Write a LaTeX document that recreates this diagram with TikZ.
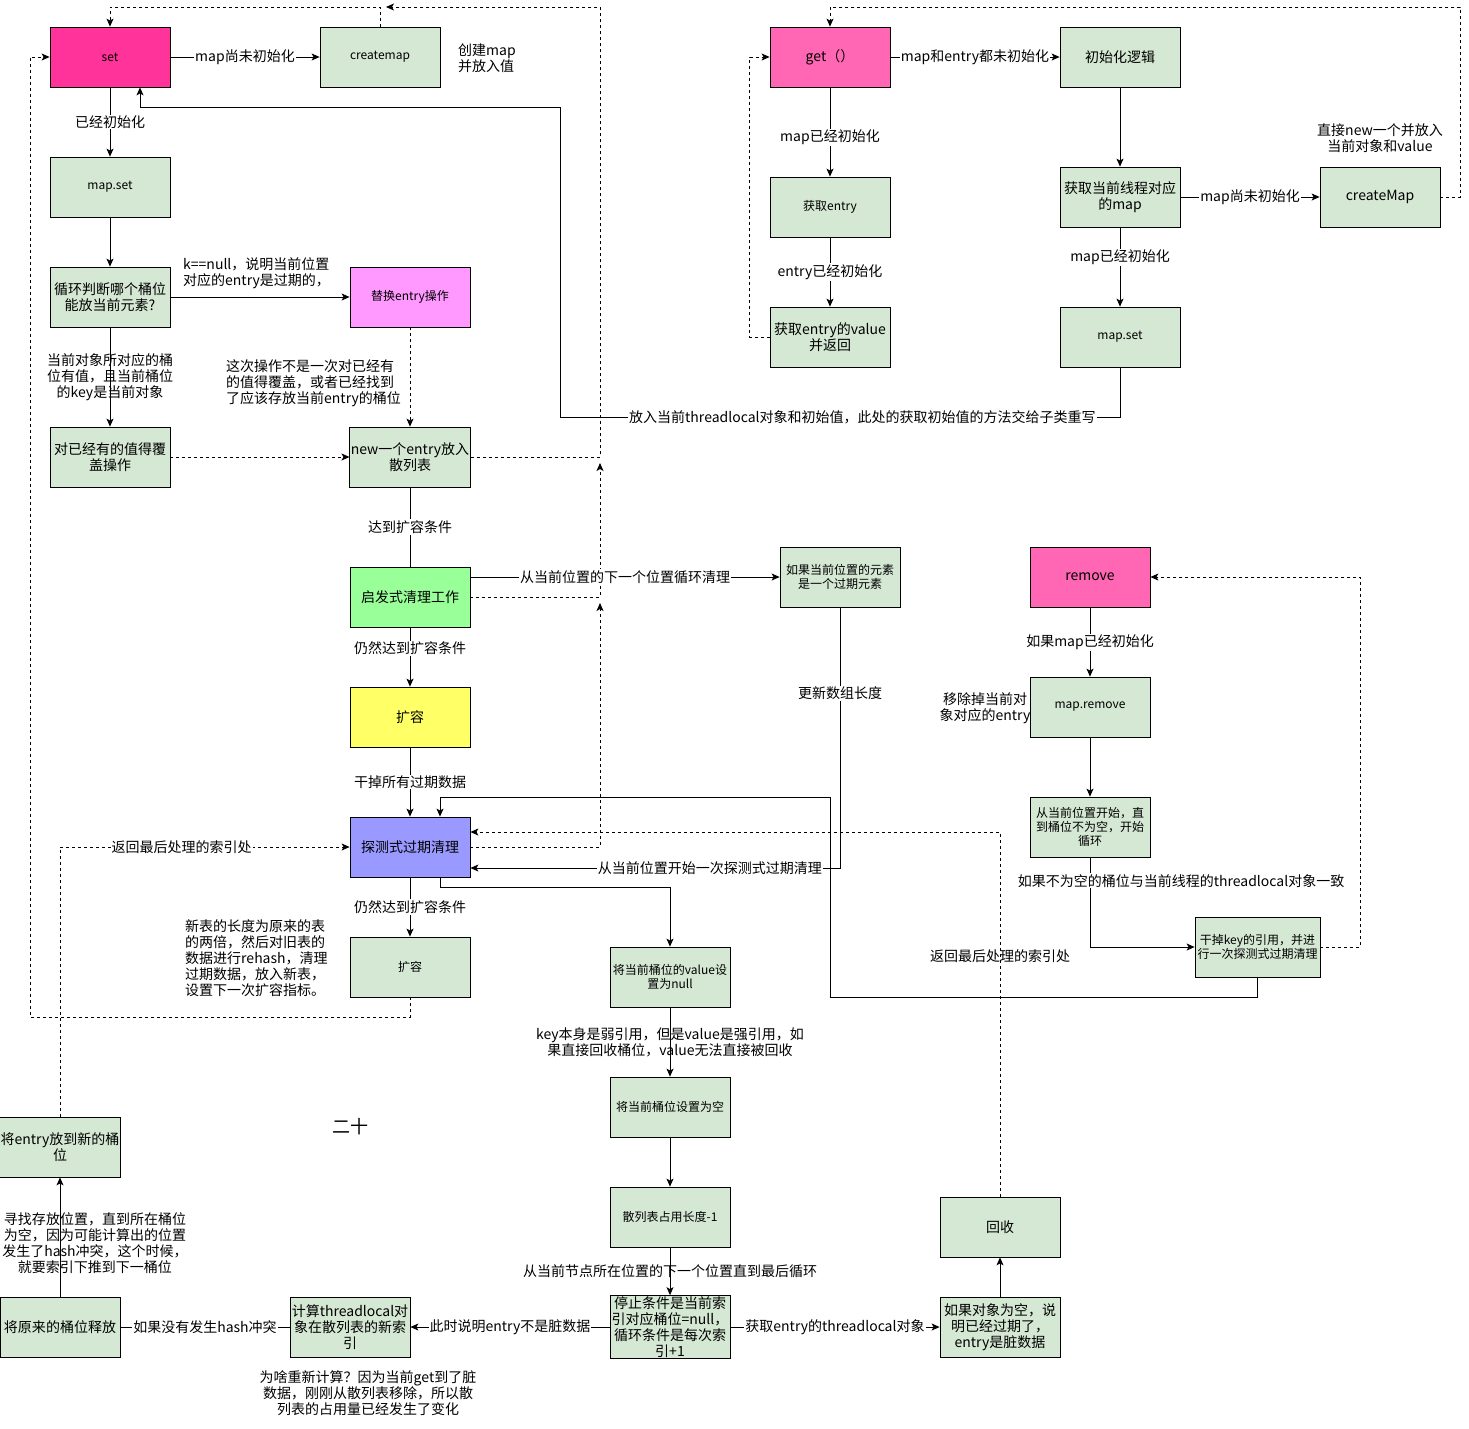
\documentclass[tikz,border=0pt]{standalone}
\usepackage{fontspec}
\setmainfont{Noto Sans CJK SC}
\usepackage{tikz}
\usetikzlibrary{arrows.meta,positioning}
\definecolor{boxgreen}{HTML}{D5E8D4}
\definecolor{setpink}{HTML}{FF3399}
\definecolor{getpink}{HTML}{FF66B3}
\definecolor{swappink}{HTML}{FF99FF}
\definecolor{heurgreen}{HTML}{99FF99}
\definecolor{growyellow}{HTML}{FFFF66}
\definecolor{probeblue}{HTML}{9999FF}
\newcommand{\bigtxt}{\fontsize{14pt}{16pt}\selectfont}
\newcommand{\smalltxt}{\fontsize{12pt}{14pt}\selectfont}
\tikzstyle{arrow} = [-{Stealth[length=8pt,width=7pt,inset=2pt]}, line width=0.8pt]
\tikzstyle{link} = [line width=0.8pt]
\tikzstyle{back} = [dash pattern=on 3pt off 3pt]
\tikzstyle{stepbox} = [draw, line width=0.8pt, fill=boxgreen, minimum width=120pt, minimum height=60pt, inner sep=1pt, align=center, font=\bigtxt]
\tikzstyle{lbl} = [fill=white, inner sep=1pt, align=center, font=\bigtxt]
\tikzstyle{note} = [inner sep=0pt, align=center, font=\bigtxt]

\begin{document}
\begin{tikzpicture}[x=1pt, y=-1pt]
    \useasboundingbox (0,0) rectangle (1469,1428);

    % set
    \node[stepbox, fill=setpink, font=\smalltxt] (set) at (110,57) {set};
    \node[stepbox, font=\smalltxt] (createmap) at (380,57) {createmap};
    \node[note, anchor=west, align=left] (createnote) at (458,58) {创建map\\并放入值};
    \node[stepbox, font=\smalltxt] (mapset) at (110,187) {map.set};
    \node[stepbox] (loop) at (110,297) {循环判断哪个桶位\\能放当前元素?};
    \node[stepbox, fill=swappink, font=\smalltxt] (swap) at (410,297) {替换entry操作};
    \node[stepbox] (cover) at (110,457) {对已经有的值得覆\\盖操作};
    \node[stepbox] (newentry) at (410,457) {new一个entry放入\\散列表};
    \node[stepbox, fill=heurgreen] (heur) at (410,597) {启发式清理工作};
    \node[stepbox, fill=growyellow] (grow) at (410,717) {扩容};
    \node[stepbox, fill=probeblue] (probe) at (410,847) {探测式过期清理};
    \node[stepbox, font=\smalltxt] (regrow) at (410,967) {扩容};
    \node[stepbox] (movebucket) at (60,1147) {将entry放到新的桶\\位};
    \node[stepbox] (release) at (60,1327) {将原来的桶位释放};
    \node[stepbox] (rehash) at (350,1327) {计算threadlocal对\\象在散列表的新索\\引};
    \node[stepbox] (stopcond) at (670,1327) {停止条件是当前索\\引对应桶位=null，\\循环条件是每次索\\引+1};
    \node[stepbox] (nullcheck) at (1000,1327) {如果对象为空，说\\明已经过期了，\\entry是脏数据};
    \node[stepbox] (reclaim) at (1000,1227) {回收};
    \node[stepbox, font=\smalltxt] (shrink) at (670,1217) {散列表占用长度-1};
    \node[stepbox, font=\smalltxt] (clearslot) at (670,1107) {将当前桶位设置为空};
    \node[stepbox, font=\smalltxt] (nullvalue) at (670,977) {将当前桶位的value设\\置为null};
    \node[stepbox, font=\smalltxt] (stale) at (840,577) {如果当前位置的元素\\是一个过期元素};

    % remove
    \node[stepbox, fill=getpink] (remove) at (1090,577) {remove};
    \node[stepbox, font=\smalltxt] (mapremove) at (1090,707) {map.remove};
    \node[stepbox, font=\smalltxt] (scan) at (1090,827) {从当前位置开始，直\\到桶位不为空，开始\\循环};
    \node[stepbox, font=\smalltxt, minimum width=125pt] (dropkey) at (1257.5,947) {干掉key的引用，并进\\行一次探测式过期清理};

    % get
    \node[stepbox, fill=getpink] (get) at (830,57) {get（）};
    \node[stepbox, font=\smalltxt] (getentry) at (830,207) {获取entry};
    \node[stepbox] (getvalue) at (830,337) {获取entry的value\\并返回};
    \node[stepbox] (init) at (1120,57) {初始化逻辑};
    \node[stepbox] (curmap) at (1120,197) {获取当前线程对应\\的map};
    \node[stepbox] (createMap) at (1380,197) {createMap};
    \node[stepbox, font=\smalltxt] (mapset2) at (1120,337) {map.set};

    % free notes
    \node[note, anchor=west, align=left] (nullnote) at (183,273) {k==null，说明当前位置\\对应的entry是过期的，};
    \node[note, anchor=west, align=left] (newnote) at (226,383) {这次操作不是一次对已经有\\的值得覆盖，或者已经找到\\了应该存放当前entry的桶位};
    \node[note, anchor=west, align=left] (grownote) at (185,958) {新表的长度为原来的表\\的两倍，然后对旧表的\\数据进行rehash，清理\\过期数据，放入新表，\\设置下一次扩容指标。};
    \node[note] (seeknote) at (95,1243) {寻找存放位置，直到所在桶位\\为空，因为可能计算出的位置\\发生了hash冲突，这个时候，\\就要索引下推到下一桶位};
    \node[note] (whynote) at (368,1393) {为啥重新计算？因为当前get到了脏\\数据，刚刚从散列表移除，所以散\\列表的占用量已经发生了变化};
    \node[note] (newmapnote) at (1380,138) {直接new一个并放入\\当前对象和value};
    \node[note] (removenote) at (985,708) {移除掉当前对\\象对应的entry};
    \node[note, font=\fontsize{18pt}{20pt}\selectfont] (twenty) at (350,1127) {二十};

    \coordinate (topjoin) at (386,7);
    \coordinate (newjoin) at (600,463);
    \coordinate (heurjoin) at (600,603);

    % set flow
    \draw[arrow] (set) -- node[lbl]{map尚未初始化} (createmap);
    \draw[arrow, back] (createmap.north) -- (380,7) -| (set.north);
    \draw[arrow] (set) -- node[lbl]{已经初始化} (mapset);
    \draw[arrow] (mapset) -- (loop);
    \draw[arrow] (loop) -- (swap);
    \draw[arrow] (loop) -- node[note]{当前对象所对应的桶\\位有值，且当前桶位\\的key是当前对象} (cover);
    \draw[arrow, back] (cover) -- (newentry);
    \draw[arrow, back] (swap) -- (newentry);
    \draw[link] (newentry) -- node[lbl]{达到扩容条件} (heur);
    \draw[arrow] (heur) -- node[lbl, pos=0.35]{仍然达到扩容条件} (grow);
    \draw[arrow] (grow) -- node[lbl]{干掉所有过期数据} (probe);
    \draw[arrow] (probe) -- node[lbl]{仍然达到扩容条件} (regrow);
    \draw[arrow, back] (regrow.south) -- (410,1017) -| (30,57) -- (set.west);
    \draw[arrow, back] (newentry.east) -- (600,457) -- (600,7) -- (topjoin);
    \draw[arrow, back] (heur.east) -- (600,597) -- (newjoin);
    \draw[arrow, back] (probe.east) -- (600,847) -- (heurjoin);
    \draw[arrow] (heur.east |- stale) -- node[lbl]{从当前位置的下一个位置循环清理} (stale);
    \draw[arrow] (stale) |- node[lbl, pos=0.165]{更新数组长度} node[lbl, pos=0.676]{从当前位置开始一次探测式过期清理} ([yshift=-21pt]probe.east);
    \draw[arrow] ([xshift=30pt]probe.south) -- ++(0,10) -| (nullvalue.north);
    \draw[arrow] (nullvalue) -- node[note]{key本身是弱引用，但是value是强引用，如\\果直接回收桶位，value无法直接被回收} (clearslot);
    \draw[arrow] (clearslot) -- (shrink);
    \draw[arrow] (shrink) -- node[note]{从当前节点所在位置的下一个位置直到最后循环} (stopcond);
    \draw[arrow] (stopcond) -- node[lbl]{此时说明entry不是脏数据} (rehash);
    \draw[arrow] (stopcond) -- node[lbl]{获取entry的threadlocal对象} (nullcheck);
    \draw[arrow] (nullcheck) -- (reclaim);
    \draw[arrow, back] (reclaim.north) |- node[note, pos=0.33]{返回最后处理的索引处} ([yshift=15pt]probe.east);
    \draw[link] (rehash) -- node[lbl]{如果没有发生hash冲突} (release);
    \draw[arrow] (release) -- (movebucket);
    \draw[arrow, back] (movebucket.north) |- node[lbl, pos=0.71]{返回最后处理的索引处} (probe.west);

    % remove flow
    \draw[arrow] (remove) -- node[lbl]{如果map已经初始化} (mapremove);
    \draw[arrow] (mapremove) -- (scan);
    \draw[arrow] (scan) |- node[lbl, pos=0.13, xshift=91pt]{如果不为空的桶位与当前线程的threadlocal对象一致} (dropkey);
    \draw[arrow, back] (dropkey.east) -- ++(40,0) |- (remove.east);
    \draw[arrow] (dropkey.south) -- ++(0,20) -| (830,797) -| ([xshift=30pt]probe.north);

    % get flow
    \draw[arrow] (get) -- node[lbl]{map和entry都未初始化} (init);
    \draw[arrow] (get) -- node[lbl, pos=0.56]{map已经初始化} (getentry);
    \draw[arrow] (getentry) -- node[lbl]{entry已经初始化} (getvalue);
    \draw[arrow, back] (getvalue.west) -- ++(-20,0) |- (get.west);
    \draw[arrow] (init) -- (curmap);
    \draw[arrow] (curmap) -- node[lbl]{map尚未初始化} (createMap);
    \draw[arrow] (curmap) -- node[lbl, pos=0.375]{map已经初始化} (mapset2);
    \draw[arrow, back] (createMap.east) -- ++(20,0) |- (830,7) -- (get.north);
    \draw[arrow] (mapset2.south) -- ++(0,50) -| node[lbl, pos=0.23]{放入当前threadlocal对象和初始值，此处的获取初始值的方法交给子类重写} (560,107) -| ([xshift=30pt]set.south);
\end{tikzpicture}
\end{document}
